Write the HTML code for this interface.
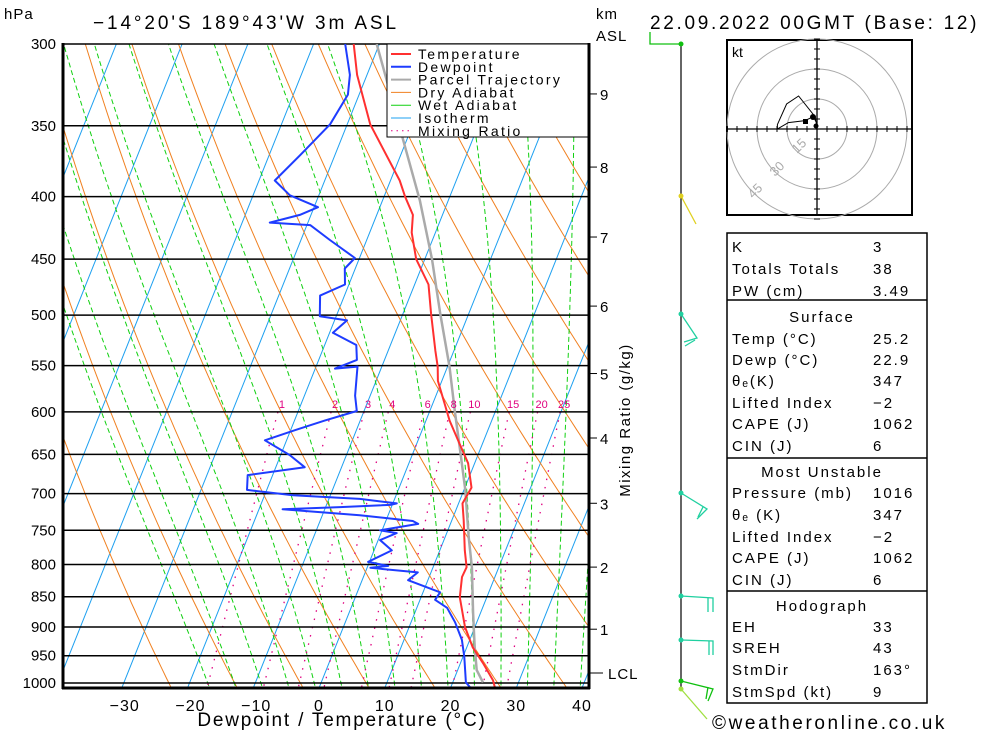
<!DOCTYPE html>
<html><head><meta charset="utf-8"><style>
body{margin:0;background:#fff;width:1000px;height:733px;overflow:hidden}
svg{display:block;font-family:"Liberation Sans",sans-serif}
</style></head><body>
<svg id="c" width="1000" height="733" viewBox="0 0 1000 733">
<defs><clipPath id="clip"><rect x="63" y="44" width="526" height="644"/></clipPath></defs>
<g id="bg" clip-path="url(#clip)"></g>
<g id="grid"></g>
<g id="series" clip-path="url(#clip)"></g>
<g id="axes"></g>
<g id="wind"></g>
<g id="hodo"></g>
<g id="tbl"></g>
</svg>
<script>
// ---- data ----
const tempP = [300,318,349,388,400,414,428,450,472,499,535,551,566,610,637,661,692,713,736,779,804,819,851,900,935,963,995,1010];
const tempT = [-33.9,-31.5,-26.5,-18.6,-16.8,-14.5,-13.6,-11.3,-7.9,-5.7,-2.8,-1.5,-0.6,3.6,6.5,9.0,11.0,10.6,11.8,13.8,15.1,15.0,15.9,18.5,20.9,23.4,26.0,26.8];
const dewP = [300,318,330,349,370,388,399,408,414,420,422,434,449,458,472,482,501,505,517,529,544,553,551,582,599,610,621,633,651,666,676,695,702,707,713,715,718,721,729,737,741,750,754,764,779,796,802,805,812,824,843,855,868,892,922,952,999,1014];
const dewT = [-35.2,-32.6,-31.7,-32.6,-35.3,-37.6,-34.4,-29.4,-31.7,-35.8,-29.5,-25.6,-20.7,-21.6,-20.6,-23.7,-22.5,-18.1,-19.5,-15.2,-14.2,-17.0,-13.7,-12.3,-11.1,-15.4,-19.3,-23.3,-18.6,-15.6,-23.8,-23.0,-15.7,-5.3,0.6,-0.3,-7.8,-16.4,-4.3,4.1,5.1,-0.3,2.4,0.3,2.7,-0.2,3.1,0.5,8.0,7.0,12.6,12.3,14.6,16.7,18.8,20.2,22.0,23.5];
const parcelP = [300,363,403,450,499,551,599,645,695,760,804,877,935,976,999];
const parcelT = [-30.4,-20.0,-14.3,-8.9,-4.3,0.3,3.8,7.0,10.2,13.6,15.9,18.9,21.2,22.9,24.6];
const pLevels = [300,350,400,450,500,550,600,650,700,750,800,850,900,950,1000];
const tTicks = [-30,-20,-10,0,10,20,30,40];
const kmLabels = ["9","8","7","6","5","4","3","2","1"];
const kmP = [329.6,378.3,431.6,491.6,558.2,630.3,712.8,803.9,903.7];
const mixW = [1,2,3,4,6,8,10,15,20,25];
const mixLbl = ["1","2","3","4","6","8","10","15","20","25"];
const hodoU = [-0.2,-1,-9.2,-15.2,-19.8,-19.8,-14.3,-6,-1.8,-0.2];
const hodoV = [2.2,6.2,16.5,12.5,2.2,0,3.2,4.2,6.2,3];

// ---- axes functions ----
function yP(p){return 44+530.7*Math.log(p/300);}
function xT(t,p){return 319+6.575*t+0.4*(688-yP(p));}
const NS="http://www.w3.org/2000/svg";
function mk(tag,attrs,parent){const e=document.createElementNS(NS,tag);for(const k in attrs)e.setAttribute(k,attrs[k]);parent.appendChild(e);return e;}
function txt(s,attrs,parent){const e=mk('text',attrs,parent);e.textContent=s;return e;}
function pathFrom(pts){return pts.map((q,i)=>(i?'L':'M')+q[0].toFixed(1)+','+q[1].toFixed(1)).join('');}
const bg=document.getElementById('bg'),grid=document.getElementById('grid'),ser=document.getElementById('series'),ax=document.getElementById('axes');
const ps=[];for(let p=290;p<=1020;p+=10)ps.push(p);

// isotherms
for(let t=-120;t<=40;t+=10){
 const e=mk('line',{x1:xT(t,1020),y1:yP(1020),x2:xT(t,290),y2:yP(290),stroke:'#1ea0f0','stroke-width':1},bg);
 
 
}
// dry adiabats
for(let th=250;th<=480;th+=10){
 const pts=ps.map(p=>[xT(th*Math.pow(p/1000,0.286)-273.15,p),yP(p)]);
 const e=mk('path',{d:pathFrom(pts),fill:'none',stroke:'#f08020','stroke-width':1},bg);
 
 
}
// wet adiabats
function es(tc){return 6.112*Math.exp(17.67*tc/(tc+243.5));}
for(let t0=-16;t0<=40;t0+=4){
 let T=t0+273.15,pts=[];
 for(let p=1020;p>=290;p-=5){
  pts.push([xT(T-273.15,p),yP(p)]);
  const e=es(T-273.15),rs=0.622*e/(p-e);
  const dTdp=(287*T+2.5e6*rs)/(p*(1004+2.5e6*2.5e6*rs*0.622/(287*T*T)));
  T-=dTdp*5;
 }
 const el=mk('path',{d:pathFrom(pts),fill:'none',stroke:'#10d010','stroke-width':1,'stroke-dasharray':'5,3'},bg);
 
 
}
// mixing ratio
mixW.forEach((w,i)=>{
 const pts=[];
 for(let p=600;p<=1020;p+=10){const e=w*p/(622+w),l=Math.log(e/6.112);pts.push([xT(243.5*l/(17.67-l),p),yP(p)]);}
 const el=mk('path',{d:pathFrom(pts),fill:'none',stroke:'#e0007f','stroke-width':1.3,'stroke-dasharray':'1.5,7'},bg);
 
 
 const t=txt(mixLbl[i],{x:pts[0][0]+4,y:408,'font-size':11,fill:'#e0007f','text-anchor':'middle'},ax);
 
 
});
// pressure grid
pLevels.forEach(p=>{
 const l=mk('line',{x1:63,x2:589,y1:yP(p),y2:yP(p),stroke:'#000','stroke-width':1.5},grid);
 
 
 const t=txt(String(p),{x:56,y:yP(p)+5,'font-size':15,'text-anchor':'end'},ax);
 
 
});
// series
function series(P,T,color,w,name){
 const pts=P.map((p,i)=>[xT(T[i],p),yP(p)]);
 const e=mk('path',{d:pathFrom(pts),fill:'none',stroke:color,'stroke-width':w,'stroke-linejoin':'round'},ser);
 
 
}
series(parcelP,parcelT,'#aaaaaa',2.5,'parcel-trajectory-line');
series(dewP,dewT,'#1e3cff',2,'dewpoint-line');
series(tempP,tempT,'#ff3030',2,'temperature-line');

// frame
mk('line',{x1:63,y1:43,x2:63,y2:689,stroke:'#000','stroke-width':3},ax);
mk('line',{x1:62,y1:688,x2:590,y2:688,stroke:'#000','stroke-width':3},ax);
mk('line',{x1:589,y1:43,x2:589,y2:689,stroke:'#000','stroke-width':3},ax);
tTicks.forEach(t=>{
 const e=txt((t<0?'\u2212':'')+Math.abs(t),{x:319+6.575*t+(t<0?3:0),y:711,'font-size':16,'text-anchor':'middle','letter-spacing':'1'},ax);
 
 
});
kmLabels.forEach((k,i)=>{
 const y=yP(kmP[i]);
 mk('line',{x1:589,x2:597,y1:y,y2:y,stroke:'#000','stroke-width':1},ax);
 const e=txt(k,{x:600,y:y+6,'font-size':15},ax);
 
 
});
mk('line',{x1:589,x2:603,y1:673,y2:673,stroke:'#000','stroke-width':1},ax);
txt('LCL',{x:608,y:679,'font-size':15,'letter-spacing':'1'},ax);
</script>
<script>
const ax2=document.getElementById('axes');
function T2(str,x,y,fs,extra,name){const e=document.createElementNS("http://www.w3.org/2000/svg",'text');e.setAttribute('x',x);e.setAttribute('y',y);e.setAttribute('font-size',fs);for(const k in (extra||{}))e.setAttribute(k,extra[k]);e.textContent=str;


ax2.appendChild(e);return e;}
T2('hPa',4,19,15,{'letter-spacing':'1'},'y-axis-unit');
T2('\u221214\u00b020\'S  189\u00b043\'W  3m  ASL',93,29,19,{'xml:space':'preserve','letter-spacing':'2.9'},'chart-title');
T2('22.09.2022  00GMT  (Base: 12)',650,29,19,{'xml:space':'preserve','letter-spacing':'2.7'},'date-title');
T2('km',596,19,15,{'letter-spacing':'1'},'km-unit');
T2('ASL',596,41,15,{'letter-spacing':'1'},'km-asl');
T2('Dewpoint / Temperature (\u00b0C)',342,726,19,{'text-anchor':'middle','letter-spacing':'1.8'},'x-axis-title');
T2('\u00a9weatheronline.co.uk',712,729,19,{'letter-spacing':'2.6'},'copyright');
T2('Mixing Ratio (g/kg)',0,0,15,{transform:'translate(630,420) rotate(-90)','text-anchor':'middle','letter-spacing':'1.5'},'mixing-ratio-axis-title');
// legend
const lg=document.createElementNS("http://www.w3.org/2000/svg",'g');


ax2.appendChild(lg);
lg.innerHTML='<rect x="387" y="44" width="201" height="93" fill="#fff" stroke="#000" stroke-width="1"/>';
const legN=['Temperature','Dewpoint','Parcel Trajectory','Dry Adiabat','Wet Adiabat','Isotherm','Mixing Ratio'];
const legC=['#ff3030','#1e3cff','#aaaaaa','#f08020','#10d010','#1ea0f0','#e0007f'];
legN.forEach((n,i)=>{const y=54+i*12.8;
 const l=document.createElementNS("http://www.w3.org/2000/svg",'line');
 l.setAttribute('x1',391);l.setAttribute('x2',411);l.setAttribute('y1',y);l.setAttribute('y2',y);l.setAttribute('stroke',legC[i]);l.setAttribute('stroke-width',i<3?2:1);
 if(i==6)l.setAttribute('stroke-dasharray','1.5,4');
 lg.appendChild(l);
 const t=document.createElementNS("http://www.w3.org/2000/svg",'text');
 t.setAttribute('x',418);t.setAttribute('y',y+5);t.setAttribute('font-size',14);t.setAttribute('letter-spacing','2.3');t.textContent=n;
 
 
 lg.appendChild(t);});
// wind barbs
const wd=document.getElementById('wind');
wd.innerHTML=`<line x1="681" y1="44" x2="681" y2="690" stroke="#000" stroke-width="1.2"/>
<polyline points="681,44 650,44 650,32" fill="none" stroke="#10c010" stroke-width="1.3"/>
<polyline points="681,196 696,224" fill="none" stroke="#e0d020" stroke-width="1.3"/>
<polyline points="681,314 697,338 684,342" fill="none" stroke="#20d0a0" stroke-width="1.3"/>
<line x1="695" y1="340" x2="685" y2="346" stroke="#20d0a0" stroke-width="1.3"/>
<polyline points="681,493 707,509 697,519" fill="none" stroke="#20d0a0" stroke-width="1.3"/>
<line x1="703" y1="507" x2="698" y2="517" stroke="#20d0a0" stroke-width="1.3"/>
<polyline points="681,596 713,598 713,612" fill="none" stroke="#20d0a0" stroke-width="1.3"/>
<line x1="708" y1="598" x2="708" y2="612" stroke="#20d0a0" stroke-width="1.3"/>
<polyline points="681,640 713,641 713,655" fill="none" stroke="#20d0a0" stroke-width="1.3"/>
<line x1="709" y1="641" x2="709" y2="655" stroke="#20d0a0" stroke-width="1.3"/>
<polyline points="681,681 713,689 708,701" fill="none" stroke="#10c010" stroke-width="1.3"/>
<line x1="708" y1="687" x2="706" y2="699" stroke="#10c010" stroke-width="1.3"/>
<line x1="681" y1="689" x2="707" y2="719" stroke="#a0e040" stroke-width="1.3"/>
<circle cx="681" cy="44" r="2.5" fill="#10c010"/><circle cx="681" cy="196" r="2.5" fill="#e0d020"/>
<circle cx="681" cy="314" r="2.5" fill="#20d0a0"/><circle cx="681" cy="493" r="2.5" fill="#20d0a0"/>
<circle cx="681" cy="596" r="2.5" fill="#20d0a0"/><circle cx="681" cy="640" r="2.5" fill="#20d0a0"/>
<circle cx="681" cy="681" r="2.5" fill="#10c010"/><circle cx="681" cy="689" r="2.5" fill="#a0e040"/>`;
// hodograph
const hd=document.getElementById('hodo');
let h='<rect x="727" y="40" width="185" height="175" fill="#fff" stroke="#000" stroke-width="2"/>';
h+='<circle cx="817" cy="129" r="30" fill="none" stroke="#aaa"/><circle cx="817" cy="129" r="60" fill="none" stroke="#aaa"/><circle cx="817" cy="129" r="90" fill="none" stroke="#aaa"/>';
h+='<line x1="727" x2="912" y1="129" y2="129" stroke="#000" stroke-width="1.3"/><line x1="817" x2="817" y1="40" y2="215" stroke="#000" stroke-width="1.3"/>';
for(let d=-90;d<=90;d+=10){if(d){h+=`<line x1="${817+d}" x2="${817+d}" y1="126" y2="132" stroke="#000"/><line y1="${129+d}" y2="${129+d}" x1="814" x2="820" stroke="#000"/>`;}}
h+='<text x="732" y="57" font-size="14">kt</text>';
h+='<text x="0" y="0" font-size="13" fill="#aaa" transform="translate(797,154) rotate(-45)">15</text>';
h+='<text x="0" y="0" font-size="13" fill="#aaa" transform="translate(775,177) rotate(-45)">30</text>';
h+='<text x="0" y="0" font-size="13" fill="#aaa" transform="translate(753,199) rotate(-45)">45</text>';
hd.innerHTML=h;
const hp=hodoU.map((u,i)=>[817+2*u,129-2*hodoV[i]]);
const hl=document.createElementNS("http://www.w3.org/2000/svg",'path');
hl.setAttribute('d',hp.map((q,i)=>(i?'L':'M')+q[0]+','+q[1]).join(''));
hl.setAttribute('fill','none');hl.setAttribute('stroke','#000');hl.setAttribute('stroke-width','1');


hd.appendChild(hl);
hd.insertAdjacentHTML('beforeend','<rect x="803" y="119" width="5" height="5"/><circle cx="813" cy="117" r="3"/><circle cx="816" cy="126" r="2.5"/>');
// table
const tb=document.getElementById('tbl');
let t='<rect x="727" y="233" width="200" height="470" fill="none" stroke="#000" stroke-width="1.5"/>';
[300,458,591].forEach(y=>{t+=`<line x1="727" x2="927" y1="${y}" y2="${y}" stroke="#000" stroke-width="1.5"/>`});
const rows=[['K','3',246],['Totals Totals','38',268],['PW (cm)','3.49',290],['Temp (\u00b0C)','25.2',338],['Dewp (\u00b0C)','22.9',359],['\u03b8\u2091(K)','347',380],['Lifted Index','\u22122',402],['CAPE (J)','1062',423],['CIN (J)','6',445],
['Pressure (mb)','1016',492],['\u03b8\u2091 (K)','347',514],['Lifted Index','\u22122',536],['CAPE (J)','1062',557],['CIN (J)','6',579],['EH','33',626],['SREH','43',647],['StmDir','163\u00b0',669],['StmSpd (kt)','9',691]];
rows.forEach(r=>{t+=`<text x="732" y="${r[2]+6}" font-size="15" letter-spacing="2">${r[0]}</text><text x="873" y="${r[2]+6}" font-size="15" letter-spacing="2">${r[1]}</text>`});
[['Surface',316],['Most Unstable',471],['Hodograph',605]].forEach(r=>{t+=`<text x="822" y="${r[1]+6}" font-size="15" letter-spacing="2" text-anchor="middle">${r[0]}</text>`});
tb.innerHTML=t;
</script>
</body></html>
